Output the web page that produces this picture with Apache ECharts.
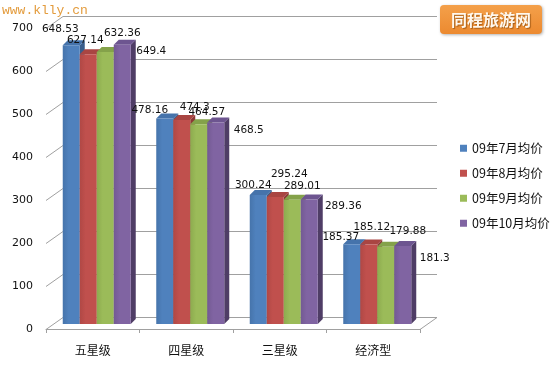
<!DOCTYPE html>
<html>
<head>
<meta charset="utf-8">
<script src="https://cdn.jsdelivr.net/npm/echarts@6/dist/echarts.min.js"></script>
<style>html,body{margin:0;padding:0;background:#fff;}#c{width:555px;height:365px;}</style>
</head>
<body>
<div id="c"></div>
<script>
const categories = ['五星级', '四星级', '三星级', '经济型'];
const seriesNames = ['09年7月均价', '09年8月均价', '09年9月均价', '09年10月均价'];
const jul = [648.53, 478.16, 300.24, 185.37];
const aug = [627.14, 474.3, 295.24, 185.12];
const sep = [632.36, 464.57, 289.01, 179.88];
const oct = [649.4, 468.5, 289.36, 181.3];
const yTicks = [0, 100, 200, 300, 400, 500, 600, 700];

const seriesValues = [jul, aug, sep, oct];
const colors = ['#4f81bd', '#c0504d', '#9bbb59', '#8064a2'];
const colorsEdge = ['#4674ab', '#b04845', '#8dab4f', '#735a93'];
const topColors = ['#4573ab', '#a94542', '#84a24a', '#6d5590'];
const sideColors = ['#385d8a', '#8c3836', '#71893f', '#4f3d66'];
// label nudges (px) relative to each bar's top-centre, per series / per category
const labelNudges = [
  [[-11, -16], [-15, -8], [-5, -10], [-11, -7]],
  [[-3, -14], [13, -13], [14, -23], [3, -17]],
  [[17, -19], [8, -12], [10, -13], [22, -15]],
  [[29, 7], [33, 8], [34, 7], [32, 12]]
];

const WALL = [17, -12];
const FRONT = [4, -5];
const DEPTH = [5, -5];

const chart = echarts.init(document.getElementById('c'), null, {renderer: 'canvas'});

function wallRender(params, api) {
  const cs = params.coordSys;
  const v = api.value(1);
  const y = Math.round(api.coord([0, v])[1]) + 0.5;
  const x0 = cs.x, x1 = cs.x + cs.width;
  const st = {stroke: '#a0a0a0', lineWidth: 1, fill: null};
  const children = [
    {type: 'line', shape: {x1: x0 + WALL[0], y1: y + WALL[1], x2: x1 + WALL[0], y2: y + WALL[1]}, style: st},
    {type: 'line', shape: {x1: x0, y1: y, x2: x0 + WALL[0], y2: y + WALL[1]}, style: st}
  ];
  if (v === 0) {
    children.push({type: 'line', shape: {x1: x1, y1: y, x2: x1 + WALL[0], y2: y + WALL[1]}, style: st});
  }
  return {type: 'group', children: children};
}

function barRender(si) {
  return function (params, api) {
    const ci = api.value(0);
    const v = api.value(1);
    const c = api.coord([ci, 0]);
    const t = api.coord([ci, v]);
    const band = api.size([1, 0])[0];
    const bw = band * 17 / 93.5;
    const x0 = c[0] - 2 * bw + FRONT[0] + si * bw;
    const yb = c[1] + FRONT[1];
    const yt = t[1] + FRONT[1];
    const dx = DEPTH[0], dy = DEPTH[1];
    const nud = labelNudges[si][ci];
    return {
      type: 'group',
      children: [
        {type: 'polygon', shape: {points: [[x0 + bw, yt], [x0 + bw + dx, yt + dy], [x0 + bw + dx, yb + dy], [x0 + bw, yb]]},
          style: {fill: sideColors[si]}},
        {type: 'polygon', shape: {points: [[x0, yt], [x0 + dx, yt + dy], [x0 + bw + dx, yt + dy], [x0 + bw, yt]]},
          style: {fill: topColors[si]}},
        {type: 'rect', shape: {x: x0, y: yt, width: bw, height: yb - yt},
          style: {fill: new echarts.graphic.LinearGradient(0, 0, 1, 0, [
            {offset: 0, color: colorsEdge[si]}, {offset: 0.35, color: colors[si]}, {offset: 1, color: colors[si]}
          ])}},
        {type: 'text', z2: 100, style: {
          text: String(v), x: x0 + bw / 2 + nud[0], y: yt + nud[1],
          align: 'center', verticalAlign: 'middle', fill: '#111',
          font: '10.5px "DejaVu Sans"'
        }}
      ]
    };
  };
}

const series = [{
  type: 'custom',
  name: 'wall',
  z: 1,
  silent: true,
  clip: false,
  renderItem: wallRender,
  encode: {x: 0, y: 1},
  data: yTicks.map(v => [0, v])
}];
seriesValues.forEach((vals, si) => {
  series.push({
    type: 'custom',
    name: seriesNames[si],
    z: 2,
    clip: false,
    itemStyle: {color: colors[si]},
    renderItem: barRender(si),
    encode: {x: 0, y: 1},
    data: vals.map((v, i) => [i, v])
  });
});

chart.setOption({
  animation: false,
  backgroundColor: '#fff',
  grid: {left: 46, right: 135, top: 28, bottom: 36},
  legend: {
    orient: 'vertical',
    left: 460,
    top: 142,
    padding: 0,
    itemWidth: 7,
    itemHeight: 7,
    itemGap: 12.5,
    icon: 'rect',
    data: seriesNames,
    textStyle: {fontSize: 12.5, color: '#111', fontFamily: '"Noto Sans CJK SC"'}
  },
  xAxis: {
    type: 'category',
    data: categories,
    boundaryGap: true,
    axisLine: {show: true, lineStyle: {color: '#a0a0a0', width: 1}},
    axisTick: {show: true, length: 4, alignWithLabel: false, lineStyle: {color: '#a0a0a0'}},
    axisLabel: {fontSize: 12, color: '#111', margin: 15, fontFamily: '"Noto Sans CJK SC"'},
    splitLine: {show: false}
  },
  yAxis: {
    type: 'value',
    min: 0,
    max: 700,
    interval: 100,
    axisLine: {show: false},
    axisTick: {show: false},
    splitLine: {show: false},
    axisLabel: {fontSize: 11, color: '#111', margin: 13, fontFamily: '"DejaVu Sans"'}
  },
  graphic: [
    {type: 'text', left: 2, top: 4, style: {text: 'www.klly.cn', fill: '#e39b3c', font: '13px "Liberation Mono"'}},
    {type: 'group', left: 440, top: 5, children: [
      {type: 'rect', shape: {x: 0, y: 0, width: 102, height: 29, r: 4},
        style: {fill: new echarts.graphic.LinearGradient(0, 0, 0, 1, [{offset: 0, color: '#f4a04a'}, {offset: 1, color: '#ec8a30'}]),
          shadowBlur: 3, shadowColor: 'rgba(0,0,0,0.3)', shadowOffsetX: 1, shadowOffsetY: 1}},
      {type: 'text', x: 51, y: 15, style: {text: '同程旅游网', align: 'center', verticalAlign: 'middle', fill: '#fff8ee',
        font: 'bold 16px "Noto Sans CJK SC"', textShadowColor: 'rgba(120,60,0,0.6)', textShadowBlur: 1, textShadowOffsetX: 1, textShadowOffsetY: 1}}
    ]}
  ],
  series: series
});
</script>
</body>
</html>
